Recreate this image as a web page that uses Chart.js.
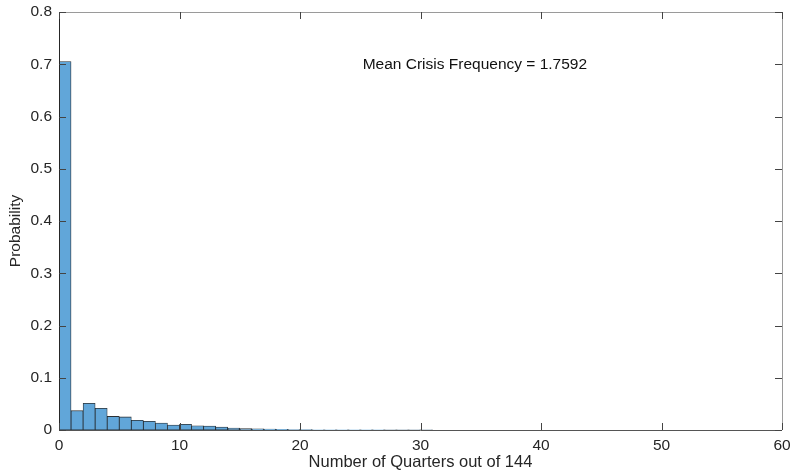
<!DOCTYPE html>
<html>
<head>
<meta charset="utf-8">
<script src="https://cdn.jsdelivr.net/npm/chart.js@4.4.1/dist/chart.umd.min.js"></script>
<style>
  html, body { margin: 0; padding: 0; background: #fff; }
  #wrap { width: 792px; height: 470px; }
</style>
</head>
<body>
<div id="wrap"><canvas id="hist" width="792" height="470"></canvas></div>
<script>
// histogram bins, width 1, starting at 0
const binStart = [0,1,2,3,4,5,6,7,8,9,10,11,12,13,14,15,16,17,18,19,20,21,22,23,24,25,26,27,28,29,30]
const probability = [0.705, 0.037, 0.051, 0.0415, 0.026, 0.025, 0.0185, 0.0166, 0.0134, 0.0096,
  0.0109, 0.0082, 0.0077, 0.0057, 0.0038, 0.0028, 0.0022, 0.0016, 0.0013, 0.001,
  0.0008, 0.0005, 0.0004, 0.0003, 0.0003, 0.0002, 0.0002, 0.0001, 0.0001, 0.0001, 0.0001]
const xTicks = [0, 10, 20, 30, 40, 50, 60]
const yTicks = [0, 0.1, 0.2, 0.3, 0.4, 0.5, 0.6, 0.7, 0.8]
const note = 'Mean Crisis Frequency = 1.7592'
const notePos = [25.2, 0.7]
const yTitle = 'Probability'

const font = 'Liberation Sans, Arial, Helvetica, sans-serif'

// box round the axes, inward tick marks, y title and the text note
const matlabBox = {
  id: 'matlabBox',
  afterDatasetsDraw(chart) {
    const c = chart.ctx, a = chart.chartArea
    const xs = chart.scales.x, ys = chart.scales.y
    c.save()
    c.lineWidth = 1
    c.strokeStyle = '#9a9a9a'
    c.beginPath()
    c.moveTo(a.left, a.top + 0.5); c.lineTo(a.right + 0.5, a.top + 0.5)
    c.lineTo(a.right + 0.5, a.bottom)
    c.stroke()
    c.strokeStyle = '#555'
    c.beginPath()
    c.moveTo(a.left, a.bottom + 0.5); c.lineTo(a.right, a.bottom + 0.5)
    c.stroke()
    c.strokeStyle = '#262626'
    c.beginPath()
    c.moveTo(a.left + 0.5, a.top); c.lineTo(a.left + 0.5, a.bottom + 1)
    c.stroke()
    // ticks
    c.strokeStyle = '#444'
    c.beginPath()
    yTicks.forEach(v => {
      const py = Math.round(ys.getPixelForValue(v)) + 0.5
      c.moveTo(a.left, py); c.lineTo(a.left + 7, py)
      c.moveTo(a.right, py); c.lineTo(a.right - 7, py)
    })
    xTicks.forEach(v => {
      const px = Math.round(xs.getPixelForValue(v)) + 0.5
      c.moveTo(px, a.bottom); c.lineTo(px, a.bottom - 7)
      c.moveTo(px, a.top); c.lineTo(px, a.top + 7)
    })
    c.stroke()
    c.fillStyle = '#111'
    c.font = '15.5px ' + font
    c.textAlign = 'left'
    c.textBaseline = 'middle'
    c.fillText(note, xs.getPixelForValue(notePos[0]), ys.getPixelForValue(notePos[1]))
    c.fillStyle = '#262626'
    c.translate(15.5, (a.top + a.bottom) / 2 + 10)
    c.rotate(-Math.PI / 2)
    c.textAlign = 'center'
    c.fillText(yTitle, 0, 0)
    c.restore()
  }
}

new Chart(document.getElementById('hist'), {
  type: 'bar',
  data: {
    datasets: [{
      data: binStart.map((b, i) => ({ x: b + 0.5, y: probability[i] })),
      backgroundColor: '#61a6d9',
      borderColor: 'rgba(20,25,30,0.9)',
      borderWidth: 0.8,
      borderSkipped: false,
      barPercentage: 1,
      categoryPercentage: 1
    }]
  },
  options: {
    responsive: false,
    animation: false,
    layout: { padding: { top: 12, right: 10, left: 0, bottom: 0 } },
    plugins: { legend: { display: false }, tooltip: { enabled: false } },
    scales: {
      x: {
        type: 'linear',
        offset: false,
        min: 0, max: 60,
        afterBuildTicks: s => { s.ticks = xTicks.map(v => ({ value: v })) },
        afterFit: s => { s.height = 40; s.paddingLeft = 0; s.paddingRight = 0 },
        grid: { display: false, drawTicks: false, offset: false },
        border: { display: false },
        ticks: { color: '#262626', padding: 6, font: { family: font, size: 15.5 } },
        title: { display: true, text: 'Number of Quarters out of 144', color: '#262626',
          padding: { top: 0, bottom: -1 }, font: { family: font, size: 16.5, lineHeight: 1 } }
      },
      y: {
        min: 0, max: 0.8,
        afterBuildTicks: s => { s.ticks = yTicks.map(v => ({ value: v })) },
        afterFit: s => { s.width = 59; s.paddingTop = 0; s.paddingBottom = 0 },
        grid: { display: false, drawTicks: false },
        border: { display: false },
        ticks: { color: '#262626', padding: 7, font: { family: font, size: 15.5 },
          callback: v => String(Math.round(v * 10) / 10) }
      }
    }
  },
  plugins: [matlabBox]
})
</script>
</body>
</html>
